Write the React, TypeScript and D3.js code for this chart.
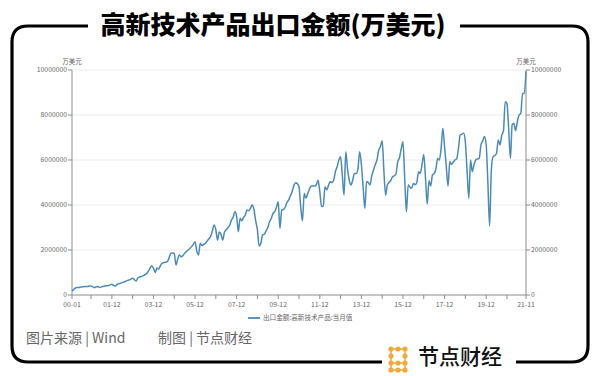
import React from "react";
import * as d3 from "d3";

const title = "高新技术产品出口金额(万美元)";
const unitLabel = "万美元";
const seriesName = "出口金额:高新技术产品:当月值";
const footerSource = "图片来源 | Wind";
const footerMaker = "制图 | 节点财经";
const brand = "节点财经";

const startYear = 2000;
// monthly values, 万美元, 2000-01 .. 2021-11
const exports2000to2005 = [
  180000, 250000, 310000, 330000, 330000, 350000, 370000, 370000, 380000, 380000, 400000, 400000,
  360000, 330000, 370000, 380000, 330000, 360000, 380000, 400000, 410000, 420000, 450000, 480000,
  430000, 400000, 470000, 500000, 520000, 550000, 580000, 610000, 650000, 670000, 710000, 750000,
  680000, 620000, 760000, 800000, 820000, 850000, 900000, 950000, 1050000, 1190000, 1300000, 1200000,
  1000000, 1200000, 1150000, 1300000, 1410000, 1440000, 1460000, 1480000, 1650000, 1850000, 1870000, 1850000,
  1330000, 1600000, 1780000, 1700000, 1750000, 1850000, 1930000, 2000000, 2070000, 2150000, 2250000, 2370000,
];
const exports2006to2011 = [
  1950000, 1780000, 2300000, 2200000, 2250000, 2300000, 2400000, 2500000, 2600000, 2850000, 3110000, 2900000,
  2440000, 2800000, 2700000, 2440000, 2800000, 2900000, 3000000, 3100000, 3330000, 3450000, 3700000, 3500000,
  2810000, 3410000, 3300000, 3450000, 3550000, 3780000, 3750000, 3850000, 4000000, 3800000, 3300000, 2900000,
  2180000, 2300000, 2670000, 2700000, 2850000, 3000000, 3260000, 3400000, 3630000, 3700000, 3900000, 4150000,
  2960000, 3780000, 3800000, 3900000, 4100000, 4220000, 4400000, 4590000, 4850000, 4990000, 4950000, 4810000,
  3900000, 3300000, 4520000, 4300000, 4500000, 4700000, 4840000, 4840000, 4840000, 4900000, 5100000, 4600000,
];
const exports2012to2017 = [
  3930000, 3950000, 4810000, 4670000, 4870000, 5040000, 5000000, 5100000, 5480000, 5700000, 6000000, 6150000,
  5300000, 4440000, 6370000, 5600000, 5100000, 4890000, 5100000, 5400000, 5400000, 5600000, 6370000, 5800000,
  4800000, 3850000, 5040000, 5000000, 4890000, 5300000, 5550000, 5800000, 6000000, 6440000, 6600000, 6860000,
  5500000, 4440000, 4900000, 5000000, 5100000, 5260000, 5300000, 5400000, 5930000, 6100000, 6500000, 6810000,
  5200000, 3700000, 4890000, 4800000, 4740000, 4960000, 4900000, 5000000, 5480000, 5400000, 5800000, 6250000,
  5200000, 4040000, 5080000, 4840000, 5330000, 5400000, 5600000, 6070000, 6000000, 6500000, 7410000, 6600000,
];
const exports2018to2021 = [
  5700000, 4840000, 5930000, 5800000, 5900000, 6000000, 6050000, 6500000, 7110000, 7150000, 7190000, 6800000,
  5500000, 4300000, 6000000, 5480000, 5800000, 6000000, 6050000, 6070000, 6670000, 6850000, 7040000, 6700000,
  5000000, 3070000, 5560000, 6150000, 6200000, 6300000, 6890000, 6670000, 7100000, 7300000, 8590000, 8520000,
  7400000, 6070000, 7560000, 7630000, 7300000, 7700000, 8000000, 8070000, 8960000, 8960000, 9930000,
];

const yTicks = [0, 2000000, 4000000, 6000000, 8000000, 10000000];
const xTickLabels = ["00-01", "01-12", "03-12", "05-12", "07-12", "09-12", "11-12", "13-12", "15-12", "17-12", "19-12", "21-11"];

const values = [...exports2000to2005, ...exports2006to2011, ...exports2012to2017, ...exports2018to2021];
const categories = values.map((_, i) => {
  const y = startYear + Math.floor(i / 12);
  const m = (i % 12) + 1;
  return `${String(y % 100).padStart(2, "0")}-${String(m).padStart(2, "0")}`;
});

const W = 600;
const H = 376;
const plot = { left: 72, right: 526, top: 70, bottom: 295 };
const lineColor = "#4a8bb8";
const axisColor = "#8c8c8c";
const textColor = "#666";
const cjk = "'Noto Sans CJK SC', 'Noto Sans', sans-serif";

export default function App() {
  const x = d3.scalePoint<string>().domain(categories).range([plot.left, plot.right]);
  const y = d3.scaleLinear().domain([0, 10000000]).range([plot.bottom, plot.top]);
  const line = d3
    .line<number>()
    .x((_, i) => x(categories[i]) as number)
    .y((d) => y(d))
    .curve(d3.curveMonotoneX);

  const tickCats = categories.filter((c, i) => i === 0 || i === categories.length - 1 || c.endsWith("-12"));

  const r = 16;
  const fl = 12, fr = 588, ft = 26, fb = 362;
  const leftFrame = `M 88 ${ft} L ${fl + r} ${ft} Q ${fl} ${ft} ${fl} ${ft + r} L ${fl} ${fb - r} Q ${fl} ${fb} ${fl + r} ${fb} L 382 ${fb}`;
  const rightFrame = `M 516 ${fb} L ${fr - r} ${fb} Q ${fr} ${fb} ${fr} ${fb - r} L ${fr} ${ft + r} Q ${fr} ${ft} ${fr - r} ${ft} L 460 ${ft}`;

  const dotGrid: [number, number][] = [
    [0, 0], [1, 0], [2, 0],
    [0, 1], [2, 1],
    [0, 2], [1, 2], [2, 2],
    [0, 3], [1, 3], [2, 3],
  ];
  const lx = 391, ly = 349, ds = 7;

  return (
    <svg width={W} height={H} style={{ position: "absolute", left: 0, top: 0, background: "#fff" }}>
      <rect width={W} height={H} fill="#fff" />
      <path d={leftFrame} fill="none" stroke="#000" strokeWidth={3.2} />
      <path d={rightFrame} fill="none" stroke="#000" strokeWidth={3.2} />
      <text
        x={273}
        y={34}
        textAnchor="middle"
        fontFamily={cjk}
        fontWeight={900}
        fontSize={25}
        fill="#000"
        stroke="#fff"
        strokeWidth={2}
        paintOrder="stroke"
      >
        {title}
      </text>

      {yTicks.slice(1).map((t) => (
        <line key={"g" + t} x1={plot.left} x2={plot.right} y1={y(t)} y2={y(t)} stroke="#ececec" strokeWidth={1} />
      ))}

      <line x1={plot.left} x2={plot.left} y1={plot.top} y2={plot.bottom} stroke={axisColor} />
      <line x1={plot.right} x2={plot.right} y1={plot.top} y2={plot.bottom} stroke={axisColor} />
      <line x1={plot.left} x2={plot.right} y1={plot.bottom} y2={plot.bottom} stroke={axisColor} />

      {yTicks.map((t) => (
        <g key={"y" + t} fontFamily={cjk} fontSize={6.8} fill={textColor}>
          <line x1={plot.left - 4} x2={plot.left} y1={y(t)} y2={y(t)} stroke={axisColor} />
          <line x1={plot.right} x2={plot.right + 4} y1={y(t)} y2={y(t)} stroke={axisColor} />
          <text x={plot.left - 5} y={y(t) - 0.5} dy="0.35em" textAnchor="end">{t}</text>
          <text x={plot.right + 5} y={y(t) - 0.5} dy="0.35em" textAnchor="start">{t}</text>
        </g>
      ))}
      <text x={plot.left} y={64} textAnchor="middle" fontFamily={cjk} fontSize={6.5} fill={textColor}>{unitLabel}</text>
      <text x={plot.right} y={64} textAnchor="middle" fontFamily={cjk} fontSize={6.5} fill={textColor}>{unitLabel}</text>

      {tickCats.map((c) => (
        <line key={"xt" + c} x1={x(c)} x2={x(c)} y1={plot.bottom} y2={plot.bottom + 4} stroke={axisColor} />
      ))}
      {xTickLabels.map((lab) => (
        <text key={"xl" + lab} x={x(lab)} y={306.5} textAnchor="middle" fontFamily={cjk} fontSize={6.8} fill={textColor}>
          {lab}
        </text>
      ))}

      <path d={line(values) || ""} fill="none" stroke={lineColor} strokeWidth={1.5} strokeLinejoin="round" />

      <line x1={248} x2={260} y1={318} y2={318} stroke={lineColor} strokeWidth={1.8} />
      <text x={263} y={318} dy="0.35em" fontFamily={cjk} fontSize={6.6} fill={textColor}>{seriesName}</text>

      <text x={26} y={343} fontFamily={cjk} fontSize={14} fill="#666">{footerSource}</text>
      <text x={158} y={343} fontFamily={cjk} fontSize={14} fill="#666">{footerMaker}</text>

      <g stroke="#f2a93b" strokeWidth={1.5}>
        <line x1={lx} x2={lx + 2 * ds} y1={ly} y2={ly} />
        <line x1={lx} x2={lx + 2 * ds} y1={ly + 2 * ds} y2={ly + 2 * ds} />
        <line x1={lx} x2={lx} y1={ly} y2={ly + 3 * ds} />
        <line x1={lx + 2 * ds} x2={lx + 2 * ds} y1={ly} y2={ly + 3 * ds} />
        <line x1={lx} x2={lx + 2 * ds} y1={ly + 3 * ds} y2={ly + 3 * ds} />
      </g>
      {dotGrid.map(([cx, cy], i) => (
        <circle key={"d" + i} cx={lx + cx * ds} cy={ly + cy * ds} r={2.6} fill="#f2a93b" />
      ))}
      <text x={418} y={364} fontFamily={cjk} fontSize={21} fontWeight={500} fill="#111">{brand}</text>
    </svg>
  );
}
